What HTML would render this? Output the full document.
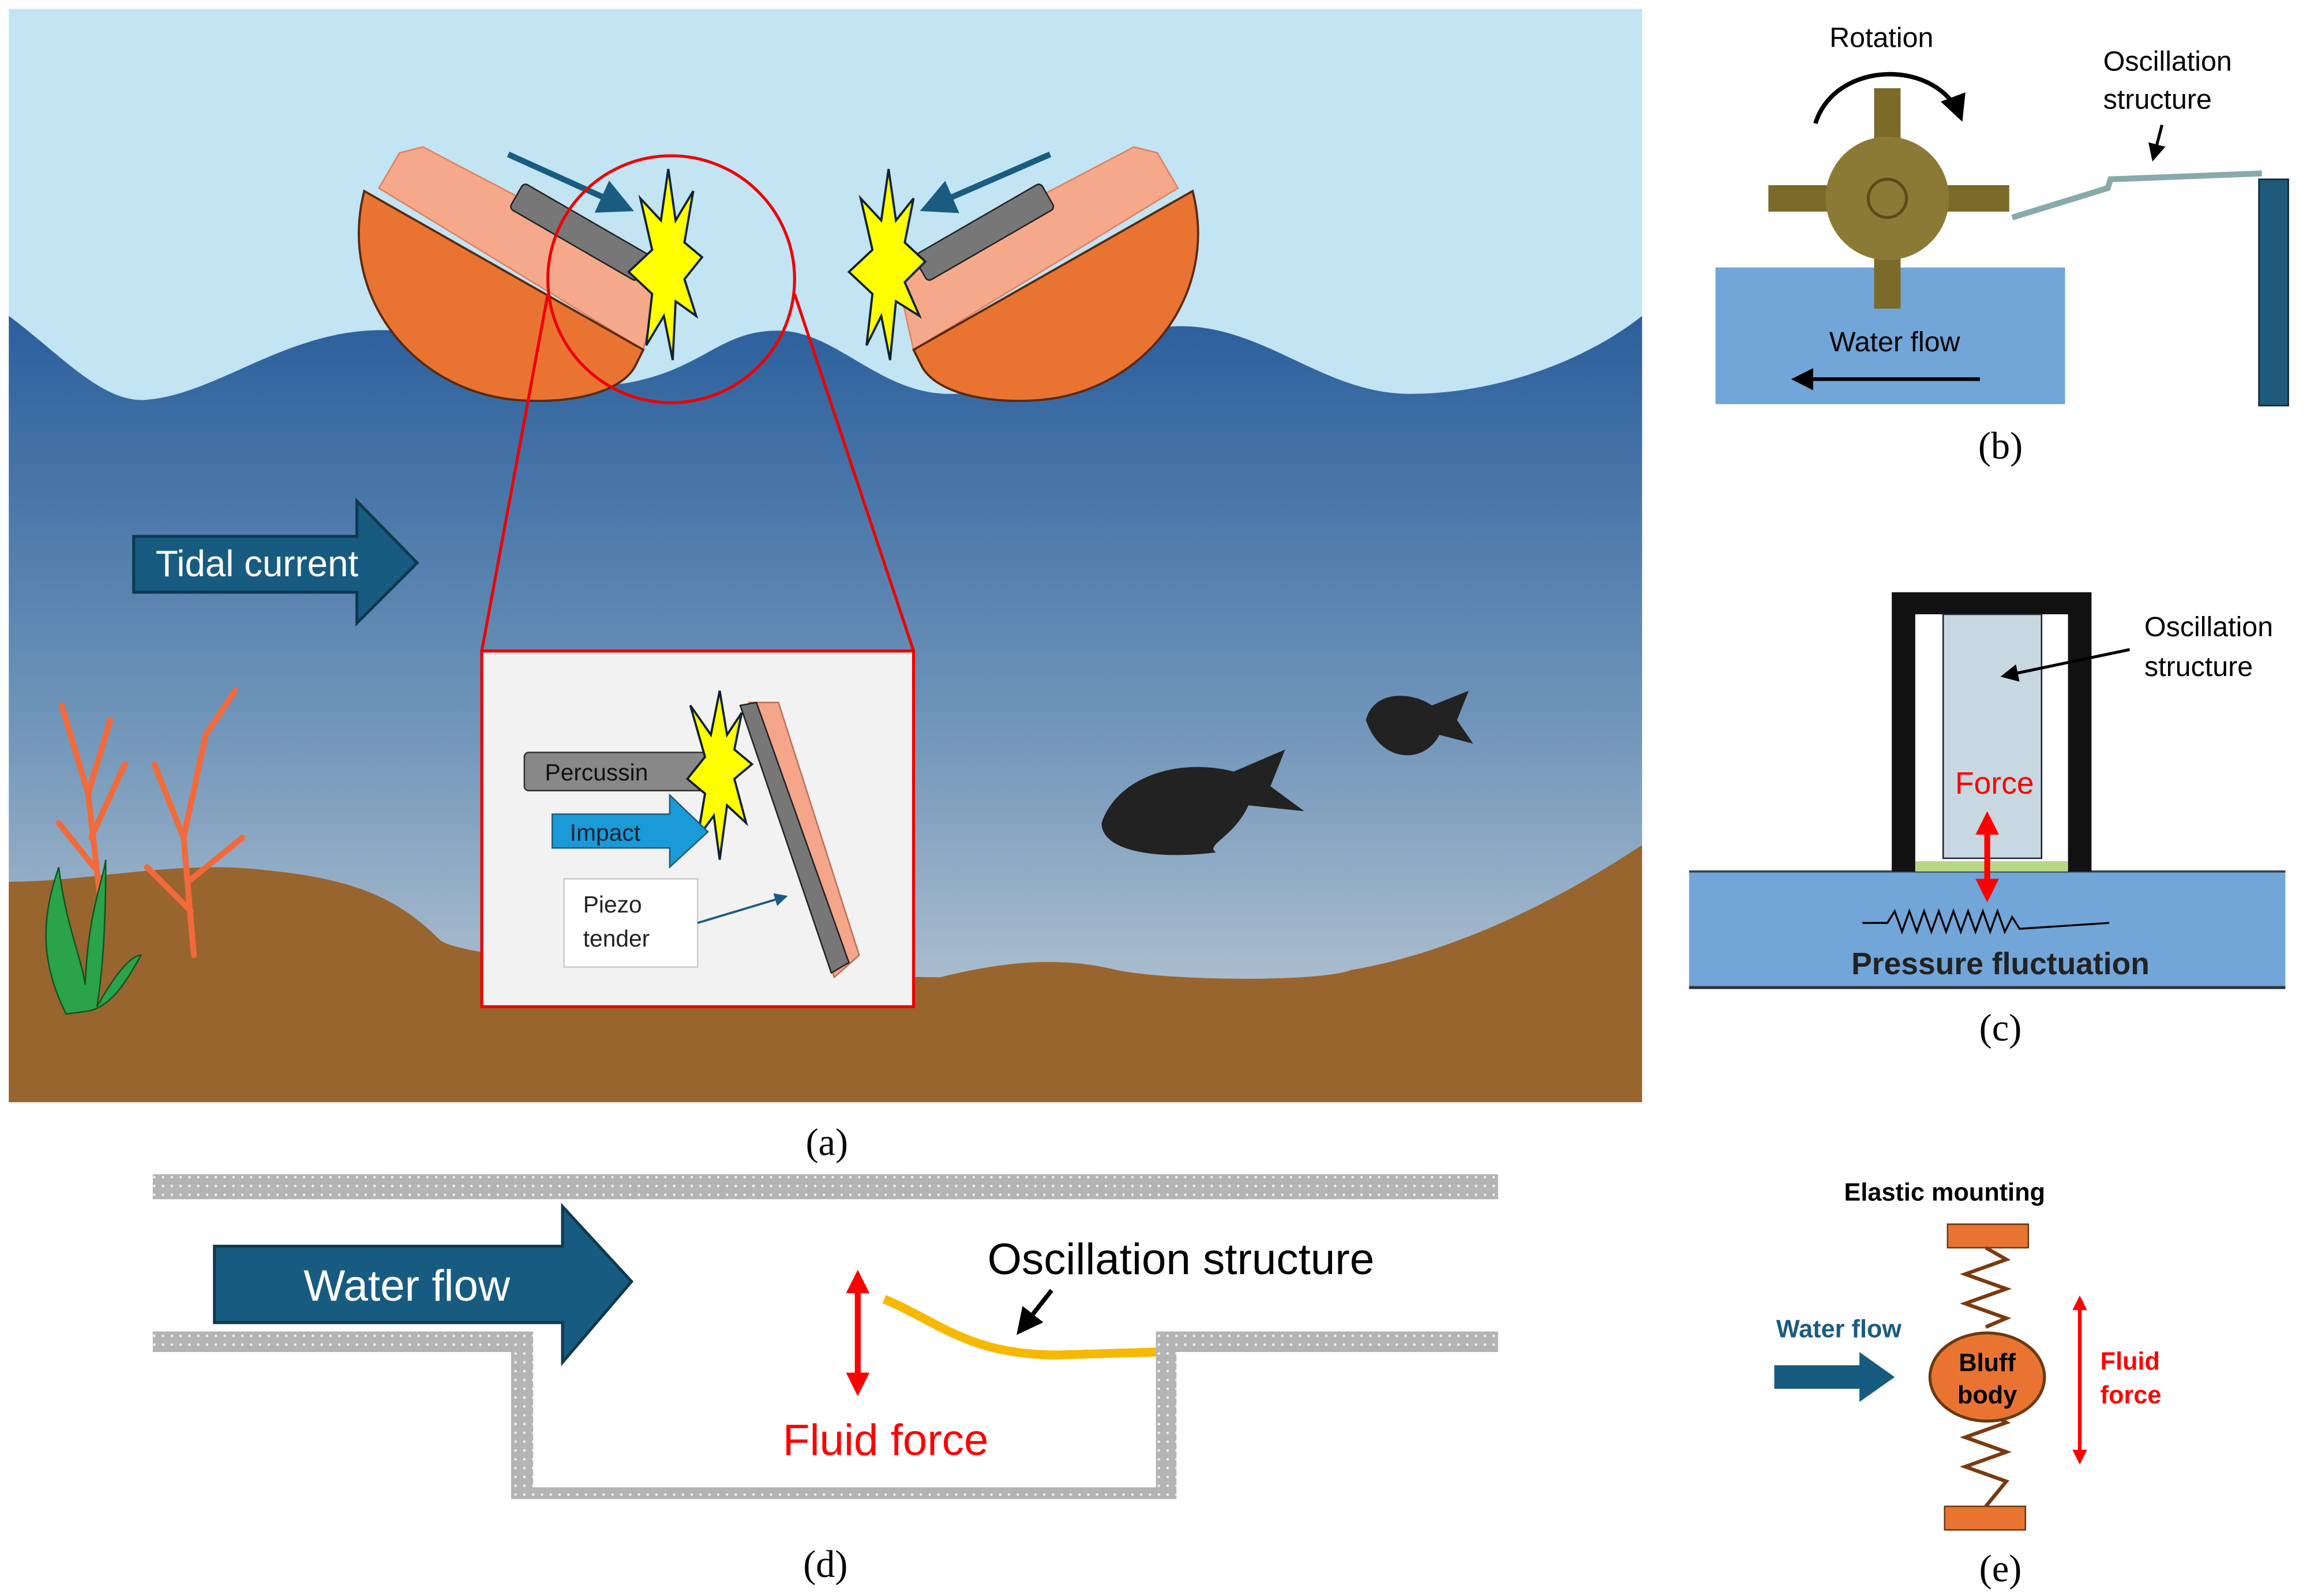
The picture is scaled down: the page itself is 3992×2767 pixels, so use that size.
<!DOCTYPE html>
<html><head><meta charset="utf-8"><style>html,body{margin:0;padding:0;background:#fff}svg{display:block}</style></head>
<body>
<svg width="3992" height="2767" viewBox="0 0 1568 1086" preserveAspectRatio="none" xmlns="http://www.w3.org/2000/svg" font-family="Liberation Sans Narrow, Liberation Sans, sans-serif">
<defs>
<linearGradient id="sea" x1="0" y1="0" x2="0" y2="1">
<stop offset="0" stop-color="#2b5f9c"/><stop offset="0.5" stop-color="#6d93b8"/><stop offset="1" stop-color="#c5cfd8"/></linearGradient>
<pattern id="dots" width="6" height="6" patternUnits="userSpaceOnUse"><rect width="6" height="6" fill="#b4b4b4"/><circle cx="3" cy="3" r="0.9" fill="#eee"/></pattern>
<marker id="ah" markerWidth="6" markerHeight="6" refX="5" refY="3" orient="auto"><path d="M0,0 L6,3 L0,6z" fill="#1a5c80"/></marker>
<marker id="bk" markerWidth="6" markerHeight="6" refX="5" refY="3" orient="auto"><path d="M0,0 L6,3 L0,6z" fill="#000"/></marker>
<marker id="rd" markerWidth="4" markerHeight="4" refX="3" refY="2" orient="auto-start-reverse"><path d="M0,0 L4,2 L0,4z" fill="#f00"/></marker>
</defs>
<!-- panel a -->
<rect x="6" y="6" width="1112" height="744" fill="#c2e4f3"/>
<path d="M6,215 C40,240 70,275 100,272 C150,268 200,220 270,225 C330,230 380,270 430,260 C480,250 490,225 530,225 C570,225 600,270 650,268 C700,266 740,225 800,222 C860,220 900,268 960,268 C1020,268 1080,245 1118,215 L1118,750 L6,750Z" fill="url(#sea)"/>
<path d="M6,600 C60,600 120,585 180,592 C240,598 270,610 300,640 C330,660 620,665 640,665 C680,655 720,650 760,660 C800,668 900,668 920,660 C980,650 1050,620 1118,575 L1118,750 L6,750Z" fill="#98652f"/>
<!-- boats -->
<path d="M258,128 L272,104 L288,100 L450,185 L438,238Z" fill="#f5a98a" stroke="#e08060"/>
<path d="M248,130 L438,238 L432,250 C420,270 380,275 350,272 C280,265 230,200 248,130Z" fill="#e97431" stroke="#5a2a10" stroke-width="1.5"/>
<rect x="345" y="148" width="100" height="20" rx="3" fill="#777" stroke="#222" transform="rotate(30 395 158)"/>
<path d="M802,128 L788,104 L772,100 L610,185 L622,238Z" fill="#f5a98a" stroke="#e08060"/>
<path d="M812,130 L622,238 L628,250 C640,270 680,275 710,272 C780,265 830,200 812,130Z" fill="#e97431" stroke="#5a2a10" stroke-width="1.5"/>
<rect x="620" y="148" width="100" height="20" rx="3" fill="#777" stroke="#222" transform="rotate(-30 670 158)"/>
<polygon points="455,115 460,150 472,130 466,165 478,175 466,190 474,215 460,205 458,245 452,215 440,235 444,200 428,185 444,170 436,135 450,150" fill="#ff0" stroke="#123" stroke-width="1.5"/>
<polygon points="605,115 610,150 622,135 616,165 630,178 616,192 626,215 610,205 606,245 600,215 590,235 594,200 578,185 594,170 586,135 600,150" fill="#ff0" stroke="#123" stroke-width="1.5"/>
<line x1="346" y1="105" x2="428" y2="142" stroke="#1a5c80" stroke-width="4" marker-end="url(#ah)"/>
<line x1="715" y1="105" x2="630" y2="142" stroke="#1a5c80" stroke-width="4" marker-end="url(#ah)"/>
<circle cx="457" cy="190" r="84" fill="none" stroke="#e00" stroke-width="2"/>
<line x1="373" y1="200" x2="328" y2="443" stroke="#e00" stroke-width="2"/>
<line x1="541" y1="200" x2="622" y2="443" stroke="#e00" stroke-width="2"/>
<rect x="328" y="443" width="294" height="242" fill="#f2f2f2" stroke="#e00" stroke-width="2"/>
<polygon points="510,478 530,478 585,650 568,665" fill="#f4a58a" stroke="#c07050"/>
<polygon points="504,480 515,478 578,655 566,662" fill="#777" stroke="#222"/>
<rect x="357" y="512" width="130" height="26" rx="3" fill="#888" stroke="#333"/>
<text x="371" y="531" font-size="16" fill="#111">Percussin</text>
<polygon points="490,470 495,500 505,485 500,510 512,520 500,530 508,560 495,548 490,585 486,555 475,570 480,540 468,530 480,515 470,480 484,500" fill="#ff0" stroke="#123" stroke-width="1.5"/>
<path d="M376,554 L456,554 L456,541 L482,566 L456,590 L456,577 L376,577Z" fill="#1a9ad6" stroke="#1a5c80"/>
<text x="388" y="572" font-size="16" fill="#123">Impact</text>
<rect x="384" y="598" width="91" height="60" fill="#fff" stroke="#ccc"/>
<text x="397" y="621" font-size="16" fill="#222">Piezo</text>
<text x="397" y="644" font-size="16" fill="#222">tender</text>
<line x1="475" y1="628" x2="535" y2="610" stroke="#1a5c80" stroke-width="1.5" marker-end="url(#ah)"/>
<path d="M91,365 L243,365 L243,341 L284,383 L243,424 L243,403 L91,403Z" fill="#175c80" stroke="#0e3950" stroke-width="2"/>
<text x="106" y="392" font-size="25" fill="#fff">Tidal current</text>
<!-- fish -->
<path d="M750,560 C760,530 800,515 840,525 L875,510 L865,535 L888,552 L850,548 C840,570 820,575 828,580 C790,585 750,580 750,560Z" fill="#222"/>
<path d="M930,490 C935,470 960,470 975,480 L1000,470 L992,490 L1003,506 L980,500 C970,520 940,520 930,490Z" fill="#222"/>
<!-- coral & seaweed -->
<g stroke="#f26a3a" stroke-width="4" fill="none" stroke-linecap="round">
<path d="M68,610 L60,540 L42,480 M60,540 L75,490 M62,570 L85,520 M64,590 L40,560"/>
<path d="M132,650 L125,570 L105,520 M125,570 L140,500 L160,470 M128,600 L165,570 M130,620 L100,590"/>
</g>
<path d="M45,690 C25,650 30,620 40,590 C45,630 55,650 58,670 C60,620 70,600 72,585 C72,630 70,660 66,685 C80,660 90,650 96,650 C85,670 75,685 60,688Z" fill="#2aa34a" stroke="#115522"/>
<text x="563" y="786" font-size="26" font-family="Liberation Serif, serif" text-anchor="middle">(a)</text>
<!-- panel b -->
<rect x="1168" y="182" width="238" height="93" fill="#72a5d8"/>
<rect x="1276" y="60" width="18" height="150" fill="#7b6a2a"/>
<rect x="1204" y="126" width="164" height="18" fill="#7b6a2a"/>
<circle cx="1285" cy="135" r="42" fill="#8a7a35"/>
<circle cx="1285" cy="135" r="13" fill="none" stroke="#5a4c18" stroke-width="2"/>
<path d="M1236,84 C1250,40 1320,40 1335,80" fill="none" stroke="#000" stroke-width="3" marker-end="url(#bk)"/>
<text x="1281" y="32" font-size="19" text-anchor="middle">Rotation</text>
<text x="1432" y="48" font-size="19">Oscillation</text>
<text x="1432" y="74" font-size="19">structure</text>
<line x1="1472" y1="85" x2="1466" y2="108" stroke="#000" stroke-width="2" marker-end="url(#bk)"/>
<path d="M1370,148 L1435,128 L1437,122 L1540,118" stroke="#8aa" stroke-width="4" fill="none"/>
<rect x="1538" y="122" width="20" height="154" fill="#1e5a7a" stroke="#123"/>
<text x="1290" y="239" font-size="19" text-anchor="middle">Water flow</text>
<line x1="1348" y1="258" x2="1222" y2="258" stroke="#000" stroke-width="2.5" marker-end="url(#bk)"/>
<text x="1362" y="312" font-size="26" font-family="Liberation Serif, serif" text-anchor="middle">(b)</text>
<!-- panel c -->
<rect x="1150" y="593" width="406" height="79" fill="#72a5d8"/>
<line x1="1150" y1="672" x2="1556" y2="672" stroke="#333" stroke-width="2"/>
<line x1="1150" y1="593" x2="1556" y2="593" stroke="#345" stroke-width="1.5"/>
<path d="M1288,593 L1288,403 L1424,403 L1424,593 L1408,593 L1408,418 L1304,418 L1304,593Z" fill="#111"/>
<rect x="1304" y="586" width="104" height="7" fill="#b8d888"/>
<rect x="1323" y="418" width="67" height="166" fill="#c8d8e0" stroke="#223"/>
<text x="1460" y="433" font-size="19">Oscillation</text>
<text x="1460" y="460" font-size="19">structure</text>
<line x1="1450" y1="442" x2="1364" y2="460" stroke="#000" stroke-width="2" marker-end="url(#bk)"/>
<text x="1358" y="540" font-size="21" fill="#f00" text-anchor="middle">Force</text>
<line x1="1353" y1="556" x2="1353" y2="610" stroke="#f00" stroke-width="4" marker-start="url(#rd)" marker-end="url(#rd)"/>
<path d="M1268,628 L1285,628 l5,-8 l5,14 l5,-14 l5,14 l5,-14 l5,14 l5,-14 l5,14 l5,-14 l5,14 l5,-14 l5,14 l5,-14 l5,14 l5,-14 l5,14 l5,-10 l5,8 L1436,628" fill="none" stroke="#000" stroke-width="1.3"/>
<text x="1362" y="663" font-size="21" font-weight="bold" fill="#222" text-anchor="middle">Pressure fluctuation</text>
<text x="1362" y="708" font-size="26" font-family="Liberation Serif, serif" text-anchor="middle">(c)</text>
<!-- panel d -->
<rect x="104" y="799" width="916" height="17" fill="url(#dots)"/>
<path d="M104,906 L363,906 L363,1012 L787,1012 L787,906 L1020,906 L1020,920 L801,920 L801,1020 L348,1020 L348,920 L104,920Z" fill="url(#dots)"/>
<path d="M146,848 L383,848 L383,821 L430,872 L383,927 L383,900 L146,900Z" fill="#175c80" stroke="#0e3950" stroke-width="2"/>
<text x="277" y="885" font-size="30" fill="#fff" text-anchor="middle">Water flow</text>
<path d="M602,884 C640,900 660,922 720,922 L787,920" fill="none" stroke="#f7b800" stroke-width="6"/>
<line x1="584" y1="868" x2="584" y2="946" stroke="#f00" stroke-width="4" marker-start="url(#rd)" marker-end="url(#rd)"/>
<text x="804" y="867" font-size="30" text-anchor="middle">Oscillation structure</text>
<line x1="716" y1="878" x2="694" y2="906" stroke="#000" stroke-width="3" marker-end="url(#bk)"/>
<text x="603" y="990" font-size="30" fill="#f00" text-anchor="middle">Fluid force</text>
<text x="562" y="1073" font-size="26" font-family="Liberation Serif, serif" text-anchor="middle">(d)</text>
<!-- panel e -->
<text x="1324" y="817" font-size="17" font-weight="bold" text-anchor="middle">Elastic mounting</text>
<rect x="1326" y="833" width="55" height="16" fill="#e97431" stroke="#6a3a10"/>
<rect x="1324" y="1025" width="55" height="16" fill="#e97431" stroke="#6a3a10"/>
<path d="M1352,849 l14,8 l-28,10 l28,10 l-28,10 l28,10 l-14,6" fill="none" stroke="#7a3a10" stroke-width="2.5"/>
<path d="M1352,960 l14,8 l-28,10 l28,10 l-28,10 l28,10 l-14,17" fill="none" stroke="#7a3a10" stroke-width="2.5"/>
<ellipse cx="1353" cy="937" rx="39" ry="30" fill="#e97431" stroke="#6a3a10" stroke-width="2"/>
<text x="1353" y="933" font-size="17" font-weight="bold" text-anchor="middle">Bluff</text>
<text x="1353" y="955" font-size="17" font-weight="bold" text-anchor="middle">body</text>
<text x="1252" y="910" font-size="17" font-weight="bold" fill="#1a5c80" text-anchor="middle">Water flow</text>
<path d="M1208,929 L1266,929 L1266,920 L1290,937 L1266,954 L1266,945 L1208,945Z" fill="#175c80"/>
<line x1="1416" y1="884" x2="1416" y2="994" stroke="#f00" stroke-width="2.5" marker-start="url(#rd)" marker-end="url(#rd)"/>
<text x="1430" y="932" font-size="17" font-weight="bold" fill="#f00">Fluid</text>
<text x="1430" y="955" font-size="17" font-weight="bold" fill="#f00">force</text>
<text x="1362" y="1076" font-size="26" font-family="Liberation Serif, serif" text-anchor="middle">(e)</text>
</svg>
</body></html>
